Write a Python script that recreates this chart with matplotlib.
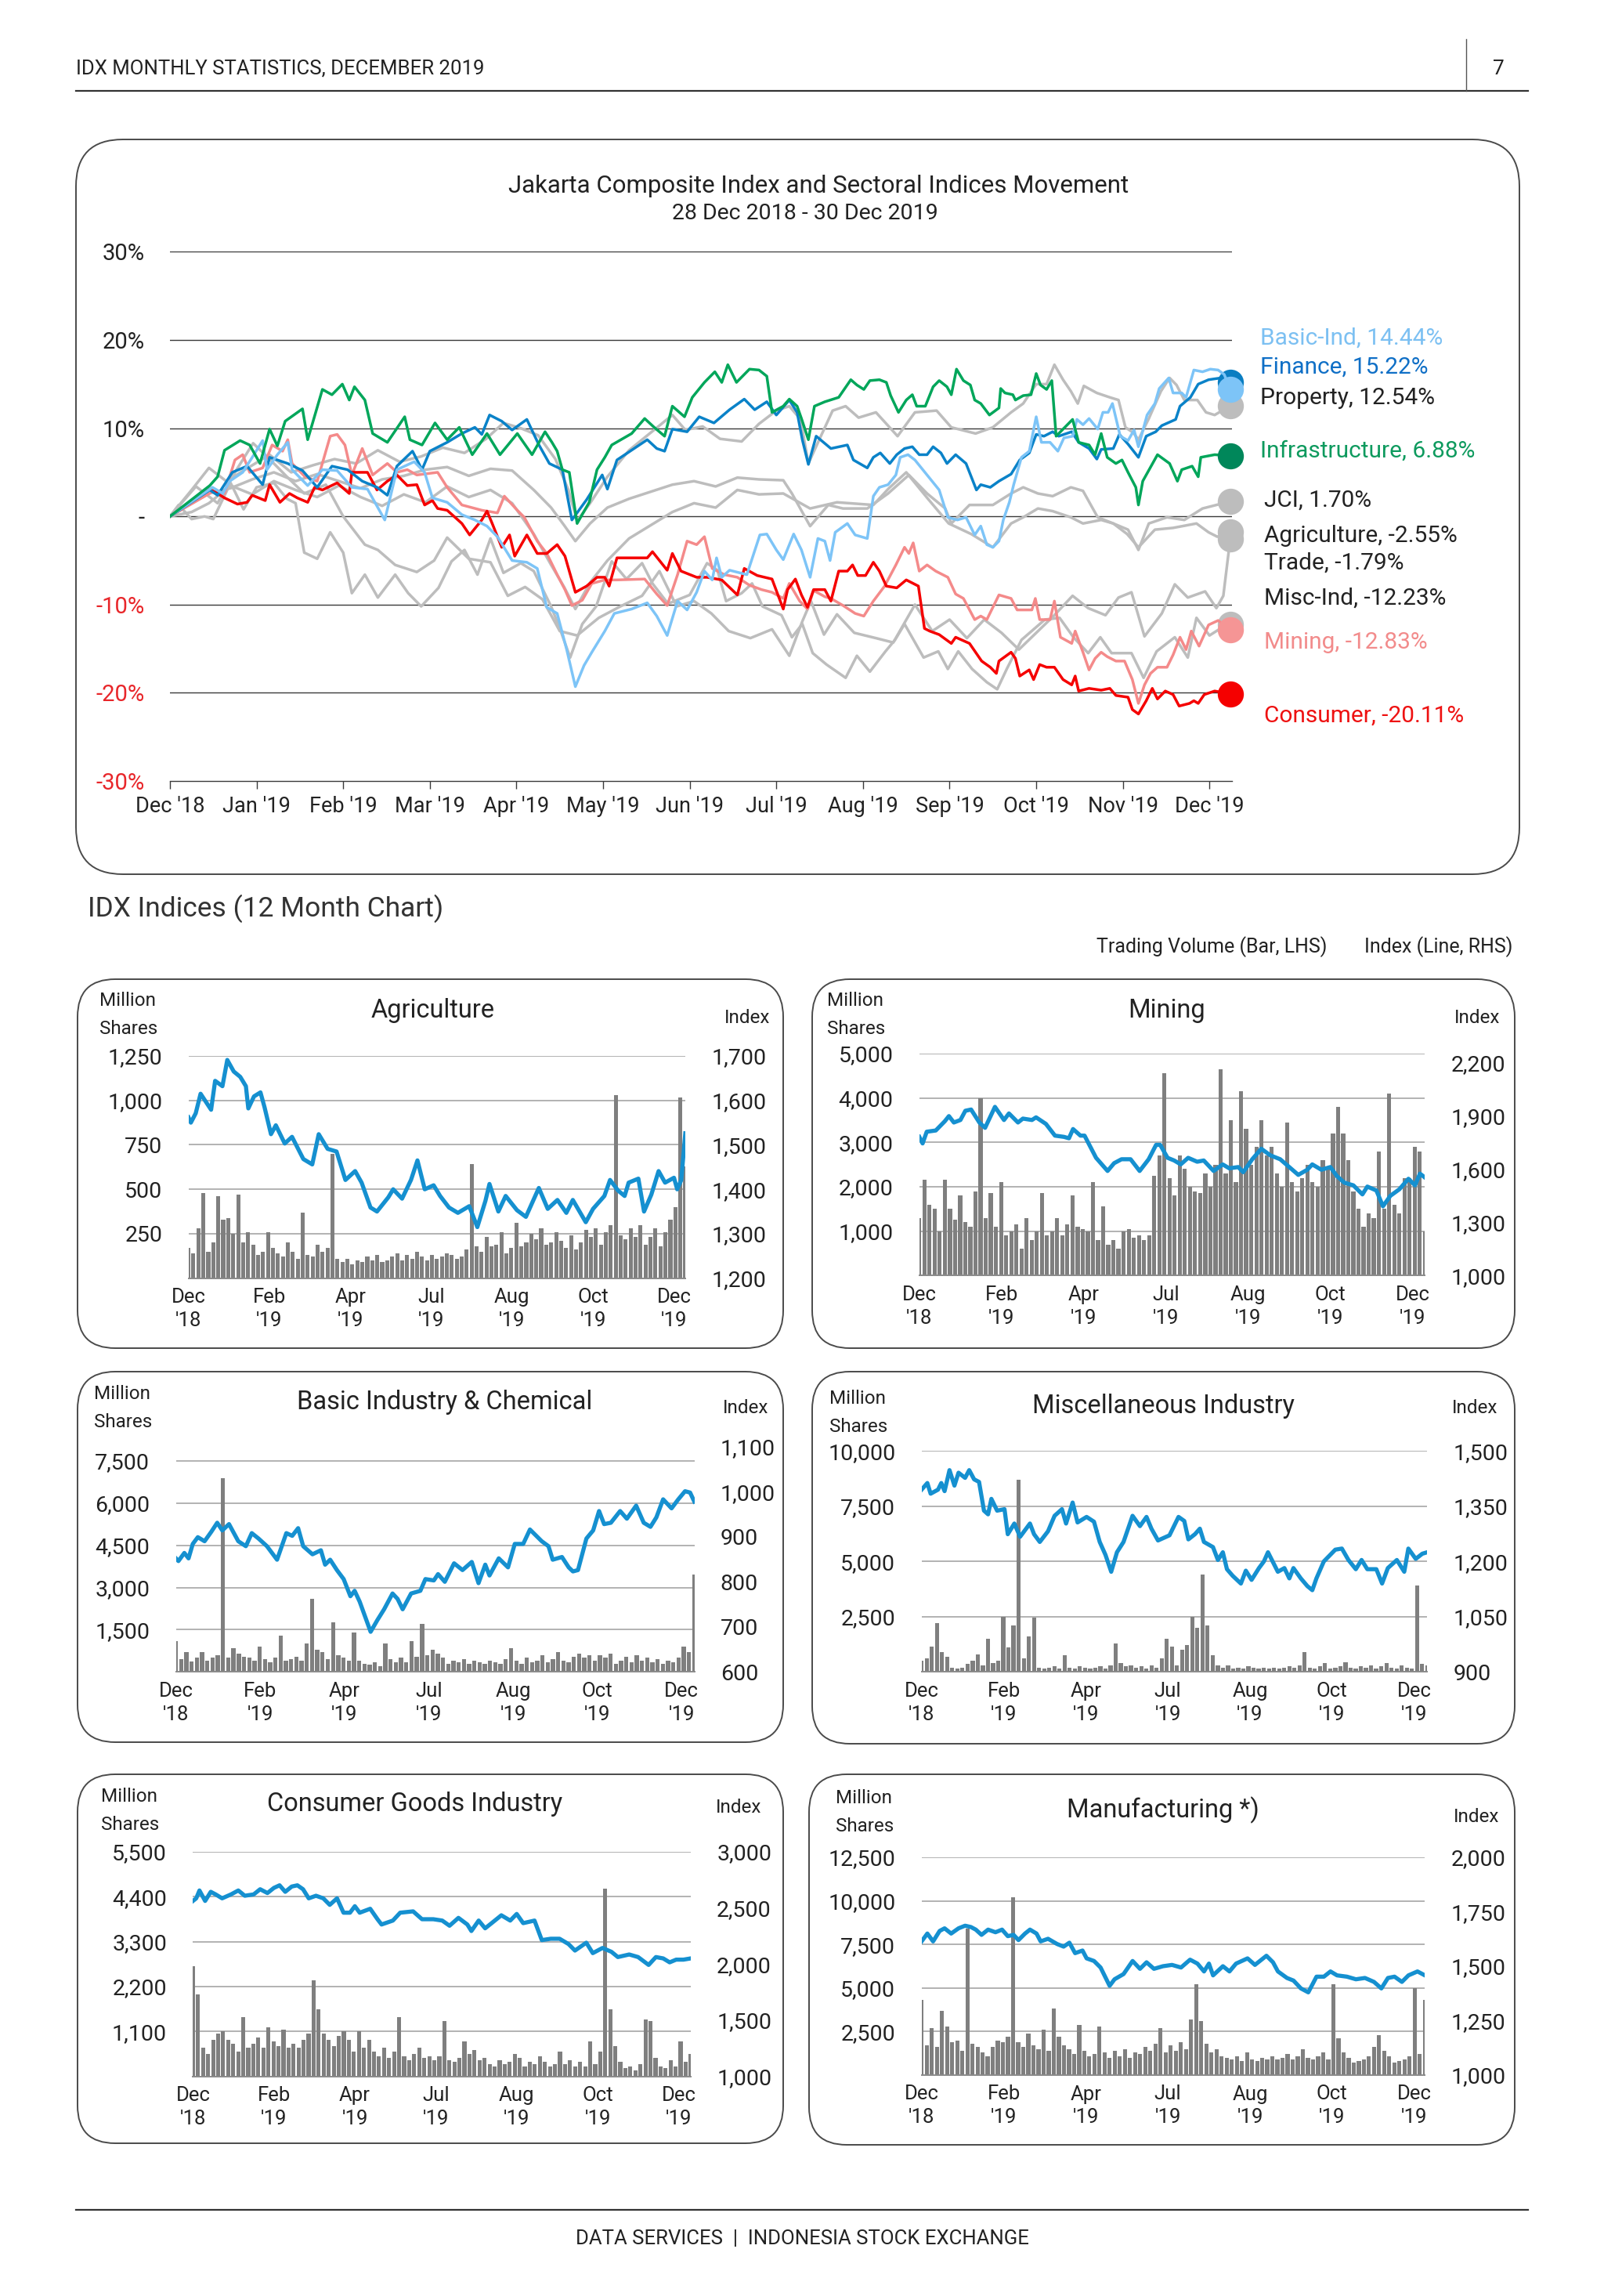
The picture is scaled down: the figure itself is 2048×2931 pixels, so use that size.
import numpy as np
import matplotlib
matplotlib.use("Agg")
import matplotlib.pyplot as plt
from matplotlib.patches import FancyBboxPatch

plt.rcParams['font.family'] = ['Roboto', 'DejaVu Sans']

W, H = 2048, 2931

# ---------------- main chart: (months since 28 Dec 2018, % change) ----------------
month_labels = ["Dec '18", "Jan '19", "Feb '19", "Mar '19", "Apr '19", "May '19", "Jun '19",
                "Jul '19", "Aug '19", "Sep '19", "Oct '19", "Nov '19", "Dec '19"]
pct_ticks = [-30, -20, -10, 0, 10, 20, 30]
pct_labels = ['-30%', '-20%', '-10%', '-', '10%', '20%', '30%']

property_pts = [(0, 0), (0.25, 3.0), (0.45, 5.5), (0.65, 4.0), (0.9, 5.5), (1.15, 7.0), (1.4, 5.0), (1.65, 5.8),
                (1.9, 6.5), (2.15, 6.0), (2.4, 7.5), (2.65, 6.2), (2.9, 6.8), (3.15, 7.8), (3.4, 7.2), (3.65, 8.8),
                (3.85, 10.6), (4.05, 10.0), (4.25, 9.2), (4.45, 6.5), (4.6, 3.0), (4.7, -0.5), (4.85, 1.5),
                (5.05, 4.5), (5.3, 7.5), (5.55, 9.5), (5.8, 11.5), (5.95, 9.8), (6.15, 10.2), (6.35, 8.8),
                (6.6, 8.5), (6.8, 10.5), (7.0, 12.0), (7.15, 12.5), (7.28, 11.0), (7.37, 6.0), (7.5, 8.8),
                (7.65, 12.0), (7.8, 12.5), (7.95, 11.2), (8.15, 11.8), (8.4, 9.1), (8.6, 11.8), (8.85, 12.0),
                (9.02, 10.1), (9.3, 9.4), (9.5, 10.1), (9.71, 11.8), (9.85, 12.8), (10.0, 15.0), (10.12, 15.0),
                (10.21, 17.2), (10.31, 15.5), (10.4, 14.2), (10.48, 12.8), (10.55, 14.8), (10.7, 14.0),
                (10.85, 13.5), (10.95, 13.2), (11.03, 10.1), (11.12, 9.5), (11.18, 8.7), (11.3, 11.1),
                (11.44, 14.2), (11.54, 15.7), (11.62, 14.9), (11.71, 13.2), (11.86, 13.2), (11.96, 11.8),
                (12.06, 11.5), (12.24, 12.54)]

jci_pts = [(0, 0), (0.25, 1.5), (0.45, 2.6), (0.7, 3.2), (0.95, 4.2), (1.2, 5.0), (1.45, 4.0), (1.7, 4.8),
           (1.95, 4.0), (2.2, 3.2), (2.45, 4.2), (2.7, 4.6), (2.95, 5.3), (3.2, 5.6), (3.45, 4.6), (3.7, 5.4),
           (3.95, 5.2), (4.2, 3.0), (4.4, 1.0), (4.55, -1.0), (4.68, -2.8), (4.85, -0.8), (5.05, 1.0), (5.3, 2.0),
           (5.55, 2.8), (5.8, 3.6), (6.05, 4.0), (6.3, 3.4), (6.55, 4.4), (6.8, 4.2), (7.08, 4.1), (7.18, 2.6),
           (7.39, -1.1), (7.6, 1.3), (7.77, 0.9), (8.05, 0.9), (8.29, 2.6), (8.53, 4.7), (8.74, 2.6), (8.95, 0.9),
           (9.02, -0.8), (9.23, 1.3), (9.5, 1.3), (9.71, 2.6), (9.85, 3.3), (10.02, 2.6), (10.19, 2.3), (10.4, 3.3),
           (10.54, 2.9), (10.71, -0.1), (10.89, -0.8), (11.06, -1.5), (11.18, -3.8), (11.3, -0.8), (11.51, -0.1),
           (11.71, -0.4), (11.92, 0.9), (12.24, 1.70)]

trade_pts = [(0, 0), (0.25, 0.5), (0.45, 1.5), (0.7, 3.5), (0.95, 2.5), (1.2, 4.0), (1.45, 3.0), (1.7, 2.2),
             (1.95, 3.5), (2.2, 2.2), (2.45, 1.2), (2.7, 2.5), (2.95, 1.6), (3.2, 3.4), (3.45, 2.2), (3.7, 3.0),
             (3.95, 1.5), (4.2, -2.0), (4.4, -5.5), (4.55, -8.0), (4.68, -10.5), (4.85, -7.5), (5.05, -5.0),
             (5.3, -2.5), (5.55, -1.0), (5.8, 0.5), (6.05, 1.5), (6.3, 1.0), (6.55, 3.0), (6.8, 2.5), (7.08, 2.6),
             (7.39, 0.9), (7.7, 1.6), (8.12, 1.3), (8.3, 3.2), (8.5, 5.0), (8.75, 2.0), (8.99, -0.8), (9.25, -2.0),
             (9.5, -3.5), (9.71, -0.8), (9.85, -0.1), (10.02, 0.9), (10.19, 0.6), (10.4, -0.1), (10.54, -0.8),
             (10.75, -0.4), (10.89, -0.8), (11.05, -2.0), (11.18, -3.5), (11.37, -1.5), (11.58, -1.3),
             (11.85, -0.8), (11.99, -1.8), (12.09, -2.3), (12.24, -1.79)]

agri_pts = [(0, 0), (0.3, 3.4), (0.55, 1.5), (0.75, 5.0), (0.96, 8.3), (1.15, 6.5), (1.35, 4.5), (1.55, 2.6),
            (1.8, 3.6), (2.0, 0.0), (2.25, -3.2), (2.4, -3.8), (2.6, -5.5), (2.85, -6.3), (3.05, -5.0), (3.2, -2.4),
            (3.45, -4.8), (3.7, -5.2), (3.9, -9.0), (4.1, -8.0), (4.3, -9.4), (4.5, -13.0), (4.7, -13.5),
            (4.95, -11.5), (5.2, -10.2), (5.45, -9.0), (5.65, -6.2), (5.85, -10.2), (6.05, -9.6), (6.25, -11.0),
            (6.45, -13.0), (6.7, -13.8), (6.95, -12.8), (7.15, -15.8), (7.3, -11.9), (7.4, -9.6), (7.55, -13.4),
            (7.7, -11.1), (7.9, -13.2), (8.15, -13.8), (8.35, -14.3), (8.6, -10.0), (8.8, -13.0), (9.0, -11.7),
            (9.2, -13.8), (9.4, -11.7), (9.6, -13.2), (9.8, -15.1), (10.0, -13.2), (10.2, -11.3), (10.42, -9.0),
            (10.6, -10.4), (10.8, -11.2), (10.95, -9.2), (11.1, -8.6), (11.25, -13.6), (11.45, -11.0),
            (11.6, -7.7), (11.75, -9.2), (11.95, -8.5), (12.08, -10.4), (12.16, -9.0), (12.24, -2.55)]

misc_pts = [(0, 0), (0.1, 1.3), (0.25, -0.3), (0.4, 0.0), (0.5, -0.3), (0.7, 3.8), (0.85, 0.8), (1.0, 3.3),
            (1.2, 3.8), (1.35, 2.0), (1.45, 1.5), (1.55, -4.1), (1.7, -4.8), (1.85, -1.8), (2.0, -4.1), (2.1, -8.7),
            (2.25, -6.6), (2.4, -9.2), (2.6, -6.6), (2.75, -8.7), (2.9, -10.2), (3.1, -8.1), (3.25, -5.1),
            (3.4, -3.8), (3.55, -6.6), (3.7, -2.5), (3.85, -6.4), (4.05, -5.3), (4.2, -6.2), (4.4, -10.2),
            (4.5, -12.7), (4.62, -16.0), (4.76, -12.2), (4.92, -10.2), (5.1, -5.1), (5.27, -7.1), (5.45, -5.3),
            (5.57, -7.6), (5.75, -9.9), (6.0, -8.9), (6.2, -5.3), (6.32, -6.1), (6.42, -9.6), (6.6, -8.7),
            (6.72, -7.6), (6.84, -10.2), (7.06, -11.2), (7.18, -13.7), (7.3, -12.2), (7.42, -15.5), (7.58, -16.8),
            (7.8, -18.3), (7.93, -15.8), (8.08, -17.6), (8.26, -15.3), (8.37, -14.0), (8.48, -12.2), (8.7, -16.0),
            (8.87, -15.3), (8.98, -17.3), (9.1, -15.3), (9.26, -17.3), (9.43, -18.8), (9.55, -19.6), (9.66, -17.3),
            (9.83, -14.0), (10.1, -11.7), (10.27, -11.5), (10.43, -13.7), (10.6, -15.5), (10.74, -13.7),
            (10.87, -15.5), (11.1, -15.5), (11.24, -18.3), (11.39, -15.3), (11.6, -13.7), (11.75, -16.0),
            (11.85, -11.5), (12.0, -13.5), (12.16, -12.5), (12.24, -12.23)]

mining_pts = [(0, 0), (0.49, 2.8), (0.63, 2.6), (0.75, 6.4), (0.84, 7.0), (0.92, 5.0), (1.07, 5.5), (1.18, 8.1),
              (1.30, 7.4), (1.36, 8.7), (1.41, 6.0), (1.56, 4.5), (1.70, 4.0), (1.85, 9.1), (1.93, 9.3), (2.02, 8.1),
              (2.10, 4.7), (2.22, 7.7), (2.34, 4.7), (2.51, 6.0), (2.62, 5.0), (2.74, 5.3), (2.85, 4.7), (3.09, 5.0),
              (3.20, 3.3), (3.37, 1.3), (3.60, 0.7), (3.78, 0.4), (3.86, 2.3), (4.01, 0.7), (4.09, -0.1),
              (4.24, -2.8), (4.35, -4.2), (4.47, -6.6), (4.56, -8.3), (4.64, -10.1), (4.76, -9.5), (4.87, -7.6),
              (5.02, -7.2), (5.16, -7.2), (5.48, -7.1), (5.62, -8.8), (5.74, -10.1), (5.86, -6.6), (5.97, -2.8),
              (6.08, -3.2), (6.17, -2.3), (6.26, -5.9), (6.40, -6.6), (6.55, -6.9), (6.69, -7.8), (6.83, -8.3),
              (6.95, -8.6), (7.08, -9.3), (7.15, -7.6), (7.27, -9.6), (7.36, -10.5), (7.43, -8.4), (7.56, -9.1),
              (7.63, -9.3), (7.77, -10.1), (7.91, -11.0), (8.01, -11.3), (8.12, -9.6), (8.25, -7.9), (8.38, -5.5),
              (8.48, -3.5), (8.53, -4.2), (8.58, -3.0), (8.65, -6.2), (8.74, -5.5), (8.84, -6.2), (8.98, -6.9),
              (9.07, -8.8), (9.16, -9.3), (9.29, -11.7), (9.36, -11.3), (9.43, -11.7), (9.57, -8.9), (9.71, -9.3),
              (9.78, -10.6), (9.95, -10.6), (9.99, -9.3), (10.04, -11.7), (10.16, -11.7), (10.21, -9.6),
              (10.28, -13.7), (10.41, -14.4), (10.45, -13.0), (10.54, -15.4), (10.61, -17.4), (10.68, -16.1),
              (10.75, -15.4), (10.82, -15.9), (10.92, -16.4), (11.02, -16.4), (11.11, -18.5), (11.18, -21.2),
              (11.25, -19.1), (11.32, -17.8), (11.40, -17.1), (11.51, -17.1), (11.58, -15.7), (11.66, -13.7),
              (11.73, -15.1), (11.79, -13.0), (11.88, -14.7), (11.99, -12.3), (12.10, -11.8), (12.24, -12.83)]

consumer_pts = [(0, 0), (0.46, 3.1), (0.55, 2.6), (0.63, 2.1), (0.78, 1.4), (0.89, 1.6), (0.95, 2.4), (1.10, 1.8),
                (1.15, 3.6), (1.27, 1.6), (1.38, 2.6), (1.47, 2.1), (1.59, 1.6), (1.67, 3.3), (1.76, 3.0),
                (1.93, 3.8), (2.07, 2.6), (2.10, 5.0), (2.28, 5.0), (2.39, 3.0), (2.51, 4.0), (2.62, 4.7),
                (2.74, 3.5), (2.85, 3.6), (2.94, 1.3), (3.03, 1.8), (3.09, 0.9), (3.20, 0.7), (3.37, -0.8),
                (3.46, -2.1), (3.60, -0.4), (3.66, 0.6), (3.72, -0.8), (3.83, -3.5), (3.92, -2.1), (3.98, -4.5),
                (4.12, -2.1), (4.24, -4.2), (4.35, -4.2), (4.47, -3.2), (4.56, -4.5), (4.68, -8.6), (4.81, -7.9),
                (4.93, -6.9), (5.02, -6.9), (5.07, -7.9), (5.16, -4.7), (5.51, -4.7), (5.57, -4.0), (5.74, -6.1),
                (5.80, -4.2), (5.90, -6.2), (6.08, -6.9), (6.20, -6.9), (6.37, -7.2), (6.55, -8.9), (6.63, -5.9),
                (6.78, -6.7), (6.95, -7.1), (7.08, -10.5), (7.13, -8.3), (7.22, -7.1), (7.29, -8.9), (7.36, -10.3),
                (7.43, -8.3), (7.56, -8.3), (7.63, -9.6), (7.72, -6.2), (7.82, -6.2), (7.88, -5.5), (7.94, -6.7),
                (8.03, -6.7), (8.12, -5.2), (8.19, -6.2), (8.27, -7.9), (8.39, -8.1), (8.50, -7.2), (8.64, -7.9),
                (8.71, -12.7), (8.77, -13.0), (8.88, -13.4), (9.02, -14.4), (9.07, -13.7), (9.23, -14.4),
                (9.37, -16.4), (9.47, -17.1), (9.54, -17.8), (9.57, -16.4), (9.71, -15.4), (9.76, -16.1),
                (9.81, -18.1), (9.92, -17.4), (9.97, -18.5), (10.04, -16.8), (10.12, -17.1), (10.21, -17.1),
                (10.31, -18.5), (10.41, -19.1), (10.45, -18.1), (10.49, -19.8), (10.61, -19.5), (10.75, -19.7),
                (10.85, -19.5), (10.92, -20.3), (11.06, -20.5), (11.11, -21.9), (11.18, -22.4), (11.27, -20.9),
                (11.34, -19.5), (11.40, -20.7), (11.49, -19.8), (11.58, -20.2), (11.65, -21.5), (11.77, -21.2),
                (11.82, -20.9), (11.87, -21.2), (11.94, -20.2), (12.06, -19.8), (12.24, -20.11)]

finance_pts = [(0, 0), (0.46, 3.0), (0.55, 2.4), (0.72, 5.0), (0.89, 5.7), (1.07, 3.6), (1.15, 6.7), (1.36, 6.0),
               (1.53, 5.2), (1.70, 3.3), (1.87, 5.7), (2.05, 5.3), (2.22, 4.0), (2.39, 3.3), (2.51, 2.4), (2.62, 5.7),
               (2.80, 7.4), (2.91, 5.3), (3.0, 7.4), (3.2, 8.4), (3.37, 9.4), (3.52, 10.1), (3.60, 9.3),
               (3.69, 11.5), (3.83, 10.8), (3.95, 9.8), (4.12, 11.0), (4.26, 8.1), (4.38, 6.0), (4.53, 5.3),
               (4.64, -0.4), (4.81, 1.9), (4.99, 4.7), (5.05, 3.1), (5.16, 6.4), (5.51, 8.7), (5.62, 7.7),
               (5.71, 7.4), (5.80, 9.9), (5.97, 9.6), (6.11, 11.3), (6.28, 10.6), (6.46, 12.1), (6.63, 13.3),
               (6.75, 12.1), (6.89, 13.0), (7.0, 11.5), (7.15, 13.2), (7.24, 11.8), (7.30, 8.7), (7.37, 5.9),
               (7.46, 9.1), (7.63, 7.7), (7.82, 8.1), (7.89, 6.4), (8.05, 5.5), (8.12, 6.7), (8.20, 7.2),
               (8.31, 6.0), (8.39, 7.0), (8.48, 7.7), (8.57, 7.9), (8.65, 7.0), (8.74, 7.0), (8.81, 7.9),
               (8.90, 7.2), (8.97, 6.0), (9.07, 7.0), (9.19, 6.0), (9.31, 3.0), (9.36, 3.6), (9.47, 3.3),
               (9.57, 4.0), (9.71, 4.8), (9.81, 6.4), (9.92, 7.2), (10.0, 9.3), (10.09, 9.1), (10.19, 9.6),
               (10.26, 9.1), (10.41, 9.6), (10.49, 8.4), (10.61, 7.7), (10.70, 6.5), (10.75, 7.6), (10.89, 7.7),
               (10.96, 9.3), (11.06, 8.2), (11.18, 6.7), (11.27, 9.1), (11.38, 9.6), (11.45, 10.3), (11.61, 11.0),
               (11.66, 12.5), (11.78, 13.5), (11.87, 15.0), (11.99, 15.5), (12.13, 15.7), (12.24, 15.22)]

basic_pts = [(0, 0), (0.49, 3.3), (0.61, 2.6), (0.69, 4.0), (0.84, 5.0), (0.95, 6.7), (1.07, 8.6), (1.12, 5.3),
             (1.24, 7.0), (1.36, 8.4), (1.41, 5.3), (1.59, 3.5), (1.76, 5.3), (1.93, 5.2), (2.1, 3.3), (2.28, 3.1),
             (2.48, -0.4), (2.62, 5.3), (2.82, 6.2), (2.94, 5.0), (3.03, 2.1), (3.2, 1.6), (3.37, 0.2), (3.52, -0.4),
             (3.66, -1.1), (3.78, -2.3), (3.95, -5.0), (4.12, -5.2), (4.24, -5.9), (4.35, -10.3), (4.47, -11.0),
             (4.58, -15.1), (4.68, -19.3), (4.78, -16.9), (4.87, -15.4), (5.02, -13.0), (5.13, -11.0),
             (5.33, -10.5), (5.51, -9.8), (5.62, -11.3), (5.74, -13.5), (5.86, -9.6), (5.97, -10.6), (6.08, -8.6),
             (6.17, -6.2), (6.26, -7.2), (6.31, -4.7), (6.37, -6.9), (6.46, -6.1), (6.66, -6.6), (6.81, -2.1),
             (6.89, -2.0), (7.0, -3.8), (7.08, -4.9), (7.20, -2.0), (7.29, -3.8), (7.39, -6.9), (7.48, -2.5),
             (7.56, -2.8), (7.62, -5.0), (7.68, -1.8), (7.82, -0.8), (7.91, -2.1), (8.05, -2.5), (8.12, 2.3),
             (8.19, 3.3), (8.29, 3.6), (8.38, 4.7), (8.43, 6.7), (8.52, 7.0), (8.60, 6.4), (8.74, 4.7), (8.88, 3.0),
             (8.98, -0.1), (9.09, -0.4), (9.19, -0.1), (9.29, -2.1), (9.36, -1.1), (9.43, -3.2), (9.50, -3.5),
             (9.57, -2.8), (9.62, -0.4), (9.69, 1.6), (9.74, 3.6), (9.83, 6.7), (9.92, 7.4), (10.0, 11.3),
             (10.06, 8.4), (10.16, 8.4), (10.25, 7.4), (10.32, 8.9), (10.42, 9.1), (10.47, 11.0), (10.54, 10.4),
             (10.61, 11.1), (10.71, 9.9), (10.77, 11.8), (10.83, 11.8), (10.88, 12.8), (10.97, 9.1), (11.06, 8.6),
             (11.13, 9.8), (11.18, 7.9), (11.28, 11.5), (11.37, 12.8), (11.42, 14.5), (11.53, 15.7), (11.58, 14.0),
             (11.68, 14.0), (11.73, 13.5), (11.82, 16.6), (11.92, 16.4), (12.01, 16.7), (12.10, 16.6),
             (12.17, 16.1), (12.24, 14.44)]

infra_pts = [(0, 0), (0.46, 3.5), (0.55, 4.5), (0.63, 7.5), (0.81, 8.6), (0.92, 8.1), (1.04, 6.0), (1.15, 9.9),
             (1.24, 8.0), (1.33, 10.8), (1.53, 12.2), (1.59, 8.7), (1.76, 14.4), (1.87, 13.8), (1.99, 15.0),
             (2.07, 13.2), (2.13, 14.7), (2.25, 13.2), (2.34, 9.4), (2.51, 8.4), (2.71, 11.3), (2.77, 8.7),
             (2.91, 8.1), (3.06, 10.6), (3.2, 8.7), (3.34, 10.1), (3.49, 7.0), (3.66, 9.4), (3.81, 7.0), (4.01, 9.4),
             (4.18, 7.0), (4.33, 9.6), (4.41, 8.4), (4.47, 7.4), (4.53, 5.3), (4.61, 5.0), (4.70, -0.8), (4.84, 1.6),
             (4.93, 5.3), (5.02, 6.7), (5.1, 8.1), (5.33, 9.4), (5.48, 11.1), (5.59, 10.1), (5.71, 9.1),
             (5.80, 12.5), (5.94, 11.3), (6.03, 13.5), (6.17, 15.2), (6.29, 16.4), (6.37, 15.2), (6.44, 17.2),
             (6.54, 15.2), (6.69, 16.7), (6.80, 16.6), (6.89, 15.9), (6.95, 11.8), (7.08, 12.5), (7.15, 13.3),
             (7.24, 12.5), (7.29, 11.1), (7.37, 8.7), (7.44, 12.5), (7.56, 13.0), (7.72, 13.5), (7.86, 15.5),
             (7.93, 14.9), (8.01, 14.4), (8.08, 15.4), (8.19, 15.5), (8.27, 15.2), (8.32, 13.7), (8.41, 11.8),
             (8.5, 13.2), (8.57, 13.8), (8.62, 12.5), (8.72, 12.5), (8.81, 14.7), (8.88, 15.4), (8.97, 14.7),
             (9.02, 13.8), (9.08, 16.7), (9.16, 15.4), (9.24, 14.9), (9.29, 13.2), (9.36, 12.8), (9.46, 11.5),
             (9.57, 12.3), (9.59, 14.5), (9.64, 14.0), (9.73, 13.8), (9.76, 13.2), (9.85, 13.7), (9.94, 13.8),
             (10.0, 16.2), (10.05, 14.9), (10.12, 14.4), (10.18, 15.4), (10.23, 9.1), (10.3, 9.8), (10.42, 11.0),
             (10.49, 8.4), (10.61, 8.1), (10.68, 7.0), (10.75, 9.4), (10.82, 6.7), (10.92, 6.0), (10.99, 6.4),
             (11.06, 5.0), (11.15, 3.3), (11.18, 1.3), (11.23, 4.0), (11.40, 7.0), (11.54, 6.0), (11.63, 4.0),
             (11.68, 5.3), (11.80, 5.7), (11.87, 4.5), (11.90, 6.7), (12.06, 7.0), (12.24, 6.88)]

# ---------------- small panels: line (label units, index) and daily volume (million shares) ----------------
small_xlabels = ["Dec\n'18", "Feb\n'19", "Apr\n'19", "Jul\n'19", "Aug\n'19", "Oct\n'19", "Dec\n'19"]

agri_line = [(0, 1562), (0.03, 1550), (0.09, 1571), (0.15, 1615), (0.28, 1579), (0.33, 1644), (0.42, 1632),
             (0.48, 1691), (0.56, 1665), (0.64, 1653), (0.71, 1632), (0.74, 1582), (0.81, 1609), (0.89, 1618),
             (0.94, 1585), (1.02, 1524), (1.08, 1544), (1.19, 1503), (1.28, 1518), (1.42, 1468), (1.53, 1456),
             (1.61, 1524), (1.72, 1491), (1.83, 1485), (1.94, 1421), (2.06, 1441), (2.14, 1415), (2.25, 1359),
             (2.33, 1350), (2.47, 1382), (2.53, 1400), (2.64, 1379), (2.75, 1421), (2.83, 1465), (2.92, 1400),
             (3.03, 1409), (3.11, 1385), (3.22, 1359), (3.33, 1347), (3.47, 1362), (3.57, 1315), (3.67, 1374),
             (3.72, 1412), (3.83, 1350), (3.92, 1385), (4.06, 1353), (4.17, 1338), (4.33, 1403), (4.44, 1356),
             (4.56, 1376), (4.67, 1347), (4.75, 1376), (4.91, 1326), (5.0, 1356), (5.14, 1385), (5.21, 1421),
             (5.31, 1397), (5.39, 1385), (5.44, 1415), (5.56, 1424), (5.63, 1350), (5.72, 1388), (5.81, 1441),
             (5.89, 1415), (6.0, 1426), (6.04, 1400), (6.09, 1421), (6.14, 1526)]
agri_vol = [170, 140, 280, 480, 150, 200, 460, 330, 340, 250, 470, 200, 260, 190, 130, 150, 260, 170, 140, 120,
            200, 150, 110, 370, 130, 120, 190, 150, 170, 700, 110, 90, 110, 80, 100, 90, 120, 100, 130, 90,
            100, 120, 140, 100, 130, 110, 150, 120, 100, 130, 110, 120, 140, 130, 110, 120, 160, 640, 180, 150,
            230, 180, 190, 260, 140, 170, 310, 180, 200, 250, 220, 280, 190, 200, 260, 210, 170, 240, 160, 200,
            270, 230, 280, 190, 260, 300, 1030, 240, 220, 280, 230, 300, 190, 230, 280, 180, 260, 330, 400, 1015,
            630]

mining_line = [(0, 1781), (0.04, 1744), (0.09, 1810), (0.2, 1817), (0.31, 1869), (0.36, 1898), (0.42, 1862),
               (0.5, 1876), (0.56, 1928), (0.63, 1935), (0.73, 1862), (0.8, 1832), (0.92, 1950), (1.03, 1876),
               (1.09, 1913), (1.2, 1862), (1.26, 1884), (1.37, 1876), (1.42, 1891), (1.54, 1854), (1.65, 1788),
               (1.76, 1781), (1.82, 1773), (1.87, 1825), (1.96, 1788), (2.01, 1788), (2.15, 1663), (2.29, 1589),
               (2.37, 1633), (2.46, 1655), (2.57, 1655), (2.68, 1589), (2.79, 1655), (2.88, 1736), (2.93, 1736),
               (3.02, 1663), (3.1, 1648), (3.18, 1626), (3.27, 1663), (3.38, 1641), (3.46, 1648), (3.58, 1589),
               (3.69, 1626), (3.77, 1604), (3.88, 1611), (3.94, 1582), (4.05, 1655), (4.16, 1714), (4.27, 1677),
               (4.39, 1655), (4.5, 1611), (4.61, 1567), (4.72, 1596), (4.78, 1626), (4.89, 1596), (5.0, 1611),
               (5.08, 1560), (5.17, 1523), (5.28, 1508), (5.39, 1457), (5.45, 1501), (5.56, 1479), (5.64, 1390),
               (5.73, 1449), (5.84, 1486), (5.95, 1545), (6.03, 1508), (6.09, 1574), (6.15, 1552)]
mining_vol = [1300, 2150, 1600, 1500, 1000, 2150, 1500, 1250, 1800, 1200, 1100, 1900, 4000, 1300, 1850, 1100,
              2100, 900, 1000, 1150, 600, 1300, 800, 1000, 1850, 900, 1000, 1300, 900, 1150, 1800, 1100, 1050,
              1000, 2100, 800, 1550, 700, 800, 600, 1000, 1050, 850, 900, 800, 900, 2250, 2700, 4550, 2200, 1800,
              2700, 2400, 2000, 1900, 1850, 2300, 2000, 2500, 4650, 2300, 3500, 2100, 4150, 3300, 2500, 2900, 3500,
              2700, 2900, 2300, 2000, 3450, 2100, 1900, 2200, 2500, 2100, 2000, 2600, 2400, 3200, 3800, 3200, 2600,
              1900, 1500, 1100, 1400, 1300, 2800, 1500, 4100, 1600, 1400, 2200, 2200, 2900, 2800, 1000]

basic_line = [(0, 852), (0.03, 846), (0.1, 864), (0.15, 852), (0.2, 884), (0.26, 899), (0.34, 890), (0.42, 911),
              (0.49, 931), (0.55, 914), (0.63, 928), (0.74, 890), (0.83, 879), (0.9, 908), (0.98, 896), (1.08, 879),
              (1.2, 849), (1.31, 908), (1.38, 902), (1.45, 919), (1.51, 879), (1.62, 861), (1.72, 870), (1.77, 838),
              (1.83, 849), (1.91, 826), (1.99, 806), (2.07, 768), (2.12, 780), (2.18, 756), (2.31, 689), (2.39, 715),
              (2.47, 739), (2.57, 774), (2.63, 762), (2.69, 739), (2.79, 774), (2.9, 780), (2.96, 806), (3.06, 803),
              (3.11, 817), (3.19, 800), (3.3, 841), (3.4, 826), (3.51, 844), (3.59, 797), (3.67, 838), (3.72, 814),
              (3.83, 852), (3.94, 832), (4.02, 884), (4.12, 884), (4.2, 916), (4.34, 890), (4.42, 879), (4.47, 849),
              (4.58, 855), (4.66, 832), (4.71, 823), (4.77, 826), (4.87, 896), (4.95, 914), (5.02, 957), (5.08, 928),
              (5.16, 931), (5.27, 957), (5.35, 940), (5.46, 969), (5.55, 931), (5.63, 922), (5.7, 943), (5.78, 983),
              (5.88, 963), (5.96, 983), (6.04, 1001), (6.1, 998), (6.15, 978)]
basic_vol = [1100, 450, 700, 380, 520, 700, 400, 500, 600, 6900, 500, 850, 650, 550, 500, 400, 900, 450, 350, 500,
             1300, 400, 450, 550, 400, 1000, 2600, 800, 700, 450, 1750, 600, 500, 400, 1400, 400, 300, 250, 350, 200,
             1000, 450, 350, 500, 350, 1100, 550, 1700, 600, 800, 650, 500, 300, 400, 350, 450, 300, 400, 350, 300,
             400, 350, 300, 450, 850, 400, 300, 500, 350, 400, 600, 350, 450, 700, 400, 350, 550, 650, 500, 600,
             400, 600, 500, 650, 300, 400, 550, 350, 600, 400, 500, 350, 450, 300, 400, 350, 500, 900, 700, 3450]

misc_line = [(0, 1395), (0.07, 1413), (0.11, 1384), (0.2, 1395), (0.24, 1413), (0.28, 1391), (0.34, 1448),
             (0.4, 1406), (0.45, 1441), (0.53, 1427), (0.58, 1448), (0.64, 1423), (0.7, 1416), (0.76, 1338),
             (0.81, 1328), (0.85, 1370), (0.92, 1338), (1.01, 1342), (1.05, 1274), (1.13, 1303), (1.2, 1267),
             (1.32, 1303), (1.37, 1274), (1.44, 1253), (1.54, 1282), (1.62, 1324), (1.71, 1342), (1.76, 1303),
             (1.84, 1360), (1.9, 1306), (2.01, 1321), (2.1, 1308), (2.17, 1253), (2.24, 1218), (2.31, 1172),
             (2.38, 1225), (2.46, 1253), (2.57, 1324), (2.66, 1296), (2.74, 1321), (2.8, 1289), (2.88, 1257),
             (3.02, 1271), (3.13, 1321), (3.2, 1310), (3.25, 1260), (3.33, 1274), (3.39, 1289), (3.44, 1253),
             (3.55, 1239), (3.61, 1204), (3.67, 1225), (3.72, 1179), (3.79, 1161), (3.89, 1140), (3.95, 1175),
             (4.02, 1150), (4.11, 1182), (4.17, 1200), (4.22, 1225), (4.34, 1172), (4.42, 1182), (4.48, 1154),
             (4.53, 1182), (4.62, 1154), (4.7, 1133), (4.76, 1122), (4.81, 1154), (4.9, 1200), (5.04, 1232),
             (5.12, 1235), (5.2, 1204), (5.29, 1179), (5.36, 1204), (5.43, 1179), (5.54, 1179), (5.61, 1140),
             (5.68, 1182), (5.79, 1204), (5.88, 1172), (5.93, 1235), (6.02, 1207), (6.1, 1221), (6.16, 1225)]
misc_vol = [500, 600, 1150, 2200, 900, 700, 200, 150, 200, 350, 500, 800, 300, 1500, 400, 500, 2500, 1100, 2100,
            8700, 600, 1600, 2450, 200, 150, 200, 250, 150, 750, 200, 150, 250, 200, 150, 200, 250, 150, 300, 1300,
            400, 250, 300, 200, 250, 150, 300, 200, 600, 1500, 1150, 300, 1000, 1200, 2500, 2000, 4400, 2100, 750,
            300, 200, 300, 150, 200, 150, 250, 200, 150, 200, 150, 200, 150, 200, 250, 200, 300, 900, 200, 150,
            250, 400, 150, 200, 250, 450, 200, 150, 250, 200, 300, 150, 250, 400, 200, 150, 300, 200, 150, 3900,
            350, 300]

consumer_line = [(0, 2563), (0.04, 2586), (0.08, 2656), (0.15, 2563), (0.22, 2644), (0.28, 2621), (0.36, 2586),
                 (0.47, 2621), (0.56, 2656), (0.64, 2609), (0.75, 2621), (0.83, 2667), (0.92, 2633), (1.0, 2679),
                 (1.07, 2702), (1.14, 2644), (1.22, 2691), (1.29, 2702), (1.36, 2667), (1.43, 2586), (1.52, 2609),
                 (1.61, 2586), (1.69, 2528), (1.78, 2586), (1.86, 2458), (1.94, 2458), (2.0, 2516), (2.06, 2458),
                 (2.19, 2493), (2.28, 2400), (2.33, 2353), (2.47, 2388), (2.56, 2458), (2.72, 2470), (2.83, 2400),
                 (2.97, 2400), (3.08, 2388), (3.17, 2342), (3.28, 2412), (3.39, 2353), (3.44, 2295), (3.53, 2388),
                 (3.61, 2319), (3.69, 2365), (3.81, 2435), (3.92, 2388), (4.0, 2447), (4.08, 2365), (4.22, 2388),
                 (4.31, 2214), (4.42, 2226), (4.53, 2226), (4.64, 2179), (4.72, 2121), (4.86, 2191), (4.94, 2098),
                 (5.06, 2144), (5.17, 2110), (5.25, 2063), (5.39, 2086), (5.5, 2063), (5.63, 1993), (5.72, 2063),
                 (5.81, 2051), (5.89, 2016), (5.97, 2040), (6.06, 2040), (6.15, 2051)]
consumer_vol = [2700, 2000, 700, 550, 900, 1050, 1100, 900, 800, 600, 1450, 700, 800, 950, 700, 1200, 850, 750,
                1150, 700, 800, 700, 900, 1050, 2350, 1650, 1050, 900, 750, 1000, 1100, 900, 600, 1100, 700, 900,
                600, 500, 700, 450, 600, 1450, 500, 400, 550, 700, 450, 500, 400, 500, 1350, 400, 350, 450, 850,
                550, 650, 400, 450, 300, 250, 400, 300, 350, 550, 450, 250, 350, 300, 500, 350, 250, 300, 600, 300,
                400, 250, 350, 250, 850, 300, 600, 4600, 1650, 750, 350, 200, 250, 150, 300, 1400, 1350, 450, 250,
                200, 400, 250, 850, 350, 550]

manuf_line = [(0, 1614), (0.07, 1650), (0.14, 1614), (0.22, 1662), (0.28, 1674), (0.36, 1650), (0.45, 1674),
              (0.53, 1686), (0.6, 1680), (0.66, 1668), (0.73, 1644), (0.81, 1668), (0.9, 1656), (0.98, 1668),
              (1.05, 1638), (1.12, 1644), (1.18, 1620), (1.26, 1650), (1.32, 1668), (1.4, 1650), (1.45, 1614),
              (1.54, 1626), (1.65, 1602), (1.73, 1590), (1.8, 1608), (1.87, 1560), (1.96, 1572), (2.01, 1536),
              (2.1, 1524), (2.18, 1494), (2.29, 1410), (2.35, 1440), (2.46, 1464), (2.57, 1524), (2.66, 1488),
              (2.74, 1518), (2.83, 1488), (2.94, 1500), (3.05, 1506), (3.16, 1494), (3.27, 1530), (3.36, 1512),
              (3.44, 1476), (3.5, 1512), (3.55, 1458), (3.67, 1500), (3.75, 1476), (3.83, 1512), (3.97, 1536),
              (4.06, 1506), (4.2, 1548), (4.28, 1518), (4.34, 1476), (4.45, 1446), (4.53, 1434), (4.62, 1398),
              (4.71, 1380), (4.81, 1452), (4.9, 1452), (4.98, 1476), (5.06, 1458), (5.18, 1452), (5.29, 1440),
              (5.4, 1446), (5.51, 1428), (5.6, 1398), (5.68, 1446), (5.76, 1452), (5.85, 1428), (5.93, 1458),
              (6.04, 1476), (6.13, 1458)]
manuf_vol = [4300, 1700, 2700, 1600, 3700, 2800, 1900, 2000, 1400, 8400, 1800, 1600, 1300, 1100, 1600, 2000, 1900,
             2200, 10200, 1900, 1600, 2400, 1700, 1500, 2600, 1400, 3800, 2200, 1700, 1500, 1200, 2900, 1400, 1100,
             1200, 2800, 1300, 1000, 1400, 1100, 1500, 1000, 1300, 1200, 1600, 1400, 1800, 2700, 1300, 1700, 1400,
             1900, 1500, 3200, 5200, 3100, 1800, 1300, 1500, 1100, 1000, 900, 1100, 800, 1300, 900, 800, 1000, 900,
             1100, 900, 1000, 1200, 900, 1100, 1500, 1000, 900, 1100, 1300, 900, 5200, 2100, 1300, 1000, 700, 800,
             900, 1100, 1600, 2300, 1400, 1100, 700, 800, 900, 1100, 5000, 1200, 4300]

GRAY = '#bdbdbd'
LINE_BLUE = '#1590d0'
TXT = '#222222'

fig = plt.figure(figsize=(W / 100, H / 100), dpi=100)
page = fig.add_axes([0, 0, 1, 1], zorder=-5)
page.set_xlim(0, W)
page.set_ylim(H, 0)
page.axis('off')


def px_axes(l, t, r, b):
    a = fig.add_axes([l / W, 1 - b / H, (r - l) / W, (b - t) / H])
    a.patch.set_alpha(0)
    return a


def rounded(l, t, r, b, rad):
    page.add_patch(FancyBboxPatch((l, t), r - l, b - t, boxstyle=f"round,pad=0,rounding_size={rad}",
                                  fc='none', ec='#4a4a4a', lw=1.4))


# header / footer
page.text(97, 88, "IDX MONTHLY STATISTICS, DECEMBER 2019", fontsize=18.5, color=TXT, va='center', ha='left')
page.plot([97, 1951], [116, 116], color='#333333', lw=1.6)
page.plot([1872, 1872], [50, 116], color='#555555', lw=1.0)
page.text(1913, 88, "7", fontsize=19, color=TXT, va='center', ha='center')
page.plot([97, 1951], [2821, 2821], color='#333333', lw=1.6)
page.text(1024, 2858, "DATA SERVICES  |  INDONESIA STOCK EXCHANGE", fontsize=18.5, color=TXT,
          va='center', ha='center')

# ---------------- main chart ----------------
rounded(97, 178, 1940, 1116, 60)
page.text(1045, 237, "Jakarta Composite Index and Sectoral Indices Movement", fontsize=22.5, color=TXT,
          ha='center', va='center')
page.text(1028, 272, "28 Dec 2018 - 30 Dec 2019", fontsize=20.5, color=TXT, ha='center', va='center')

ax = px_axes(217, 321.5, 1573, 997)
ax.set_xlim(0, 12.26)
ax.set_ylim(-30, 30)
for v in pct_ticks[1:]:
    ax.axhline(v, color='#3a3a3a', lw=1.0, zorder=1)
for s in ['top', 'right', 'left']:
    ax.spines[s].set_visible(False)
ax.spines['bottom'].set_color('#3a3a3a')
ax.spines['bottom'].set_linewidth(1.0)
ax.set_xticks(range(len(month_labels)))
ax.set_xticklabels(month_labels, fontsize=19.5, color=TXT)
ax.tick_params(axis='x', length=7, width=1.0, color='#3a3a3a', pad=7)
ax.set_yticks(pct_ticks)
ax.set_yticklabels(pct_labels, fontsize=21)
ax.tick_params(axis='y', length=0, pad=23)
for lab, v in zip(ax.get_yticklabels(), pct_ticks):
    lab.set_color('#e8262a' if v < 0 else TXT)


def draw(pts, color, z, marker_color=None):
    xs, ys = zip(*pts)
    ax.plot(xs, ys, color=color, lw=2.5, zorder=z, solid_joinstyle='round')
    ax.plot(xs[-1], ys[-1], 'o', ms=24, mew=0, color=marker_color or color, zorder=z + 0.5, clip_on=False)


for pts in [misc_pts, trade_pts, agri_pts, jci_pts, property_pts]:
    draw(pts, GRAY, 2)
draw(mining_pts, '#f48a8a', 3, '#f59595')
draw(consumer_pts, '#f50000', 4)
draw(finance_pts, '#0a82c8', 5, '#0a7ec2')
draw(basic_pts, '#7dc4f7', 6)
draw(infra_pts, '#00a65a', 7, '#00875a')

legend_items = [("Basic-Ind", basic_pts, 1609, 432, '#7cc0f2'),
                ("Finance", finance_pts, 1609, 469, '#0f6fc6'),
                ("Property", property_pts, 1609, 508, TXT),
                ("Infrastructure", infra_pts, 1609, 576, '#0e9a5e'),
                ("JCI", jci_pts, 1614, 639, TXT),
                ("Agriculture", agri_pts, 1614, 684, TXT),
                ("Trade", trade_pts, 1614, 719, TXT),
                ("Misc-Ind", misc_pts, 1614, 764, TXT),
                ("Mining", mining_pts, 1614, 820, '#f28b8b'),
                ("Consumer", consumer_pts, 1614, 914, '#ee1111')]
for name, pts, x, y, c in legend_items:
    page.text(x, y, f"{name}, {pts[-1][1]:.2f}%", fontsize=21.5, color=c, ha='left', va='center')

# ---------------- small panels ----------------
page.text(112, 1160, "IDX Indices (12 Month Chart)", fontsize=25.5, color='#333333', ha='left', va='center')
page.text(1400, 1209, "Trading Volume (Bar, LHS)", fontsize=18, color=TXT, ha='left', va='center')
page.text(1742, 1209, "Index (Line, RHS)", fontsize=18, color=TXT, ha='left', va='center')


def panel(box, axr, title, title_xy, ms_xy, idx_xy, line, vol, lticks, llim, rticks, rlim):
    rounded(*box, 48)
    a = px_axes(*axr)
    xs, ys = zip(*line)
    pos = np.linspace(0, xs[-1], len(vol))
    step = pos[1] - pos[0]
    a.bar(pos, vol, width=step * 0.8, color='#7f7f7f', lw=0, zorder=2)
    a.set_xlim(0, xs[-1])
    a.set_ylim(*llim)
    for v in lticks:
        a.axhline(v, color='#a6a6a6', lw=1.2, zorder=1)
    a.axhline(0, color='#8a8a8a', lw=1.4, zorder=3, clip_on=False)
    a.set_yticks(lticks)
    a.set_yticklabels([f"{v:,}" for v in lticks], fontsize=20.5, color=TXT)
    a.set_xticks(range(len(small_xlabels)))
    a.set_xticklabels(small_xlabels, fontsize=18.5, color=TXT, linespacing=1.3)
    a.tick_params(length=0)
    a.tick_params(axis='y', pad=24)
    a.tick_params(axis='x', pad=9)
    for s in a.spines.values():
        s.set_visible(False)
    a2 = a.twinx()
    a2.patch.set_alpha(0)
    a2.plot(xs, ys, color=LINE_BLUE, lw=3.8, solid_joinstyle='round', zorder=4)
    a2.set_ylim(*rlim)
    a2.set_yticks(rticks)
    a2.set_yticklabels([f"{v:,}" for v in rticks], fontsize=20.5, color=TXT)
    a2.tick_params(length=0, pad=24)
    for s in a2.spines.values():
        s.set_visible(False)
    page.text(*title_xy, title, fontsize=23.5, color=TXT, ha='center', va='center')
    page.text(ms_xy[0], ms_xy[1], "Million", fontsize=17.5, color=TXT, ha='left', va='center')
    page.text(ms_xy[0], ms_xy[1] + 36, "Shares", fontsize=17.5, color=TXT, ha='left', va='center')
    page.text(*idx_xy, "Index", fontsize=17.5, color=TXT, ha='left', va='center')


panel((99, 1250, 1000, 1721), (240.6, 1348, 875, 1631.7), "Agriculture", (553, 1290), (127, 1278), (925, 1299),
      agri_line, agri_vol, [250, 500, 750, 1000, 1250], (0, 1250),
      [1200, 1300, 1400, 1500, 1600, 1700], (1200, 1700))
panel((1037, 1250, 1934, 1721), (1173.8, 1345, 1819.3, 1628.3), "Mining", (1490, 1290), (1056, 1278),
      (1857, 1299), mining_line, mining_vol, [1000, 2000, 3000, 4000, 5000], (0, 5000),
      [1000, 1300, 1600, 1900, 2200], (1000, 2250))
panel((99, 1751, 1000, 2224), (224.6, 1846.7, 886.5, 2134.3), "Basic Industry & Chemical", (568, 1790),
      (120, 1779), (923, 1798), basic_line, basic_vol, [1500, 3000, 4500, 6000, 7500], (0, 8010),
      [600, 700, 800, 900, 1000, 1100], (600, 1100))
panel((1037, 1751, 1934, 2226), (1176.7, 1852.3, 1822.3, 2134.3), "Miscellaneous Industry", (1485, 1795),
      (1059, 1785), (1854, 1798), misc_line, misc_vol, [2500, 5000, 7500, 10000], (0, 10000),
      [900, 1050, 1200, 1350, 1500], (900, 1500))
panel((99, 2265, 1000, 2736), (246.4, 2364, 881.9, 2650.7), "Consumer Goods Industry", (530, 2303),
      (129, 2293), (914, 2308), consumer_line, consumer_vol, [1100, 2200, 3300, 4400, 5500], (0, 5500),
      [1000, 1500, 2000, 2500, 3000], (1000, 3000))
panel((1033, 2265, 1934, 2738), (1176.7, 2371, 1819.3, 2649), "Manufacturing *)", (1485, 2311),
      (1067, 2295), (1856, 2319), manuf_line, manuf_vol, [2500, 5000, 7500, 10000, 12500], (0, 12500),
      [1000, 1250, 1500, 1750, 2000], (1000, 2000))

fig.savefig("out.png", dpi=100, facecolor='white')
